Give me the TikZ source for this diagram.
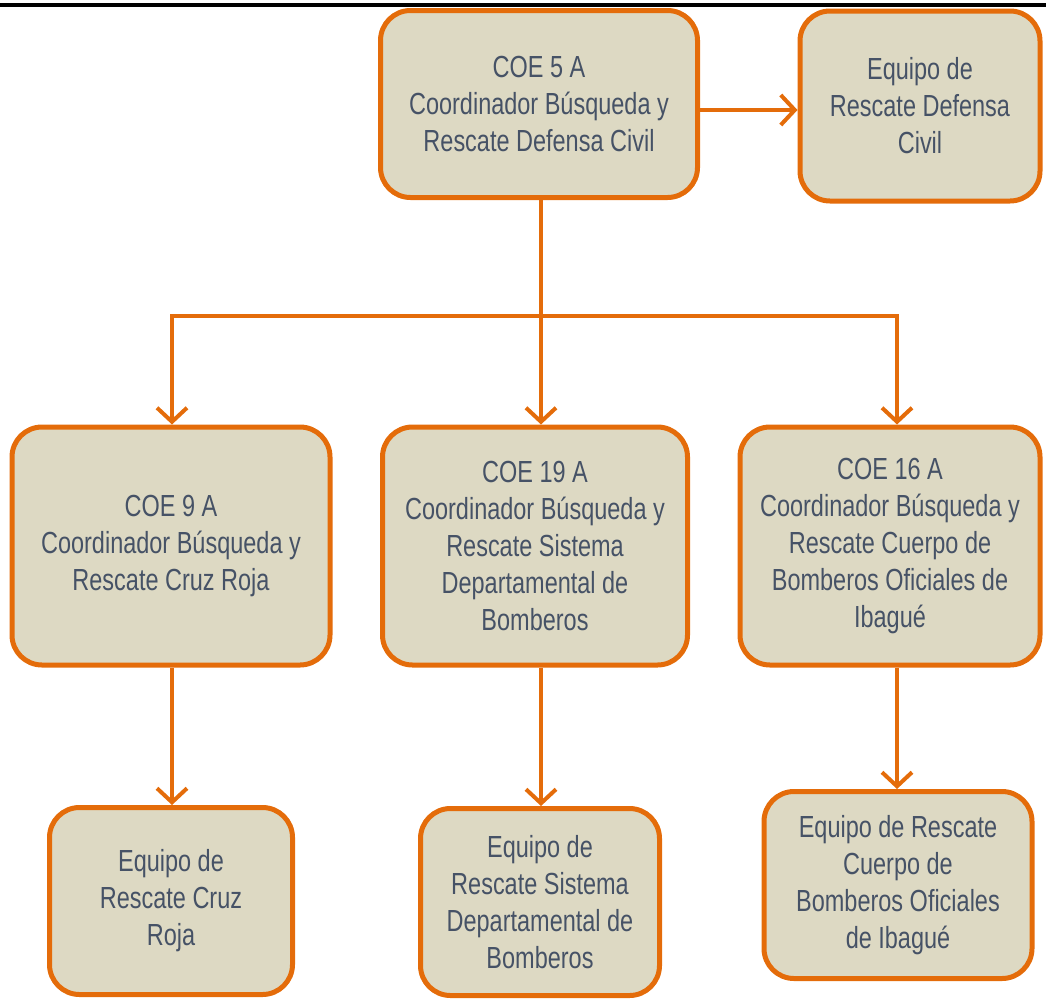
\documentclass[tikz,border=0pt]{standalone}
\usepackage{fontspec}
\setmainfont{Liberation Sans}[FakeStretch=0.77]
\usetikzlibrary{arrows.meta}
\definecolor{orgline}{HTML}{E46C0A}
\definecolor{boxfill}{HTML}{DDD9C3}
\definecolor{txtcol}{HTML}{465266}
\tikzset{
  box/.style={draw=orgline, fill=boxfill, line width=5pt, rounded corners=30pt,
    align=center, text=txtcol, font=\fontsize{30.5}{37}\selectfont, inner sep=0pt},
  conn/.style={draw=orgline, line width=4pt},
  arr/.style={conn, -{Straight Barb[length=14pt,width=30pt,line width=4pt]}},
}
\begin{document}
\begin{tikzpicture}[x=1pt,y=-1pt]
\useasboundingbox (0,0) rectangle (1046,999);
\draw[line width=4pt] (0,4.5) -- (1046,4.5);
\node[box, minimum width=317, minimum height=187] (top) at (539,104) {COE 5 A\\Coordinador Búsqueda y\\Rescate Defensa Civil};
\node[box, minimum width=240, minimum height=190] (def) at (920,106) {Equipo de\\Rescate Defensa\\Civil};
\node[box, minimum width=318, minimum height=238] (c9) at (171,546) {COE 9 A\\Coordinador Búsqueda y\\Rescate Cruz Roja};
\node[box, minimum width=305, minimum height=238] (c19) at (535,546) {COE 19 A\\Coordinador Búsqueda y\\Rescate Sistema\\Departamental de\\Bomberos};
\node[box, minimum width=300, minimum height=238] (c16) at (890,546) {COE 16 A\\Coordinador Búsqueda y\\Rescate Cuerpo de\\Bomberos Oficiales de\\Ibagué};
\node[box, minimum width=243, minimum height=187] (e9) at (171,901) {Equipo de\\Rescate Cruz\\Roja};
\node[box, minimum width=239, minimum height=187] (e19) at (540,902) {Equipo de\\Rescate Sistema\\Departamental de\\Bomberos};
\node[box, minimum width=268, minimum height=187] (e16) at (898,885) {Equipo de Rescate\\Cuerpo de\\Bomberos Oficiales\\de Ibagué};
\coordinate (jl) at (172,316);
\coordinate (jc) at (541,316);
\coordinate (jr) at (897,316);
\draw[arr] (top.east |- 0,110) -- (def.west |- 0,110);
\draw[conn] (top.south -| jc) -- (jc);
\draw[conn, line cap=rect] (jl) -- (jr);
\draw[arr] (jl) -- (jl |- c9.north);
\draw[arr] (jc) -- (jc |- c19.north);
\draw[arr] (jr) -- (jr |- c16.north);
\draw[arr] (c9.south -| jl) -- (e9.north -| jl);
\draw[arr] (c19.south -| jc) -- (e19.north -| jc);
\draw[arr] (c16.south -| jr) -- (e16.north -| jr);
\end{tikzpicture}
\end{document}
